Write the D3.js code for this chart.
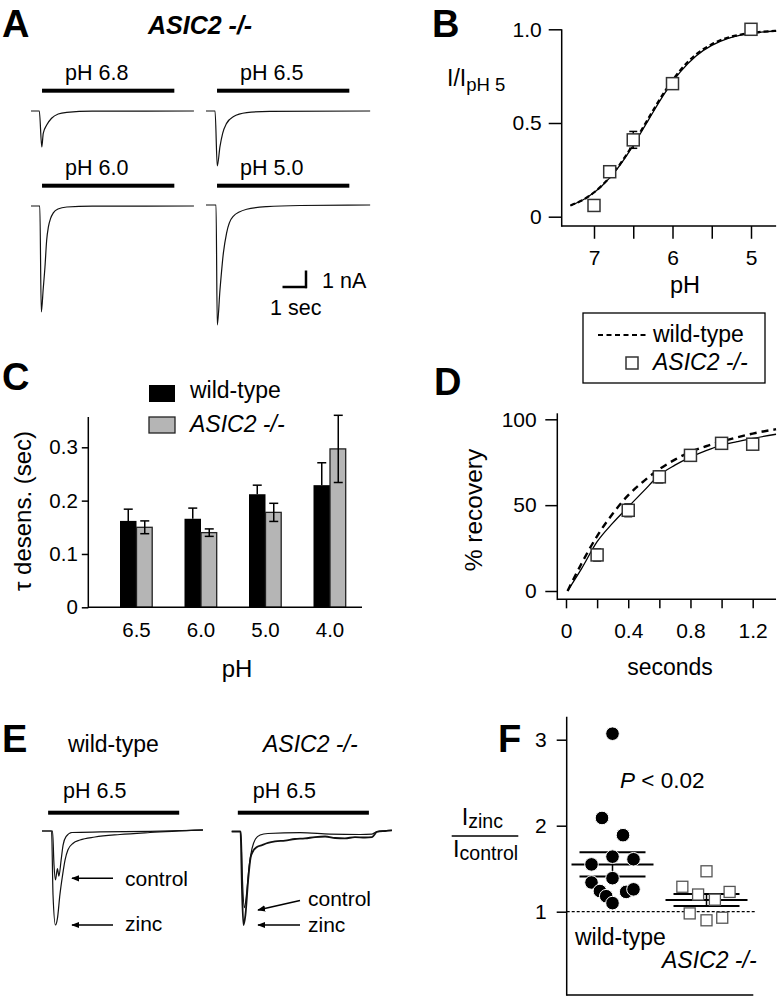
<!DOCTYPE html>
<html><head><meta charset="utf-8">
<script src="https://cdn.jsdelivr.net/npm/d3@7"></script>
<style>body{margin:0;background:#fff}svg{display:block}</style>
</head><body>
<svg id="c" width="783" height="1001"></svg>
<script>
// ---------------- DATA ----------------
// Panel A: ASIC2 -/- current traces (time s, current nA)
const aLabels = ["pH 6.8", "pH 6.5", "pH 6.0", "pH 5.0"];
const aPulse = [0.45, 5.85]; // acid application (s)
const aT68 = [0, 0.34, 0.44, 0.5, 0.64, 0.84, 1.11, 1.46, 2.5, 6.65];
const aI68 = [0, 0, -2.18, -1.35, -0.85, -0.44, -0.18, -0.08, -0.01, 0];
const aT65 = [0, 0.37, 0.46, 0.57, 0.68, 0.84, 1.11, 1.66, 2.6, 6.7];
const aI65 = [0, 0, -3.33, -2.16, -1.35, -0.75, -0.35, -0.1, -0.02, 0];
const aT60 = [0, 0.36, 0.42, 0.5, 0.57, 0.64, 0.71, 0.8, 0.91, 1.1, 1.46, 2.5, 6.65];
const aI60 = [0, 0, -6.42, -5.0, -3.7, -2.06, -1.27, -0.75, -0.42, -0.18, -0.06, -0.01, 0];
const aT50 = [0, 0.41, 0.46, 0.57, 0.71, 0.84, 1.1, 1.66, 2.48, 3.84, 6.7];
const aI50 = [0, 0, -7.27, -5.15, -2.9, -1.7, -0.7, -0.26, -0.1, -0.03, 0];

// Panel B: dose response
const bPH = [7.0, 6.8, 6.5, 6.0, 5.0];
const bKO = [0.06, 0.24, 0.41, 0.71, 1.0];
const bKOerr = [0, 0, 0.045, 0, 0];
const bXTicks = [7, 6.5, 6, 5.5, 5];
const bYTicks = [0, 0.5, 1.0];
const bYTickLabels = ["0", "0.5", "1.0"];
const bFitPH = [7.3, 7.1, 6.9, 6.7, 6.5, 6.3, 6.1, 5.9, 5.7, 5.5, 5.3, 5.1, 4.9, 4.68];
const bFitKO = [0.059, 0.10, 0.164, 0.258, 0.381, 0.521, 0.658, 0.773, 0.858, 0.914, 0.95, 0.971, 0.983, 0.991];
const bFitWT = [0.06, 0.10, 0.166, 0.262, 0.388, 0.53, 0.668, 0.782, 0.866, 0.92, 0.955, 0.974, 0.985, 0.992];

// Panel C: desensitization tau
const cPH = ["6.5", "6.0", "5.0", "4.0"];
const cWT = [0.162, 0.166, 0.212, 0.229];
const cWTerr = [0.022, 0.02, 0.017, 0.042];
const cKO = [0.15, 0.14, 0.178, 0.297];
const cKOerr = [0.012, 0.007, 0.017, 0.063];
const cYTicks = [0, 0.1, 0.2, 0.3];
const cYTickLabels = ["0", "0.1", "0.2", "0.3"];

// Panel D: recovery
const dT = [0.2, 0.4, 0.6, 0.8, 1.0, 1.2];
const dKO = [21, 47, 66.5, 79, 86, 85.5];
const dKOerr = [3.5, 3.7, 3.5, 3, 2, 1];
const dFitT = [0.01, 0.1, 0.2, 0.3, 0.4, 0.5, 0.6, 0.7, 0.8, 0.9, 1.0, 1.1, 1.2, 1.35];
const dFitKO = [0, 13, 28.7, 39.5, 49, 58.3, 67.5, 73.3, 78, 81.8, 85, 87, 88.9, 91.3];
const dFitWT = [0, 16, 32, 45, 55.8, 64, 71, 76.5, 81, 84.3, 87, 89.5, 91.7, 94.2];
const dXTicks = [0, 0.2, 0.4, 0.6, 0.8, 1.0, 1.2];
const dXTickLabels = ["0", "", "0.4", "", "0.8", "", "1.2"];
const dYTicks = [0, 50, 100];

// Panel E: zinc traces (time s, current normalized to zinc peak)
const eWTctrlT = [0, 0.43, 0.49, 0.55, 0.63, 0.69, 0.78, 0.86, 0.98, 1.22, 2.37, 4.41, 6.57];
const eWTctrlI = [0, 0, -0.36, -0.52, -0.40, -0.48, -0.31, -0.15, -0.06, -0.016, -0.01, -0.005, 0.01];
const eWTzincT = [0, 0.39, 0.45, 0.55, 0.63, 0.73, 0.84, 0.94, 1.06, 1.27, 1.55, 2.16, 3.18, 4.41, 6.57];
const eWTzincI = [0, 0, -0.68, -1.0, -0.93, -0.68, -0.47, -0.31, -0.20, -0.13, -0.096, -0.064, -0.037, -0.016, 0.011];
const eKOctrlT = [0, 0.38, 0.44, 0.52, 0.60, 0.71, 0.83, 0.97, 1.16, 1.48, 2.79, 4.01, 5.24, 5.73, 5.93, 6.54];
const eKOctrlI = [0, 0, -0.52, -0.81, -0.68, -0.37, -0.18, -0.08, -0.037, -0.021, -0.011, -0.027, -0.032, -0.027, 0, 0.011];
const eKOzincT = [0, 0.36, 0.42, 0.48, 0.56, 0.67, 0.77, 0.87, 1.03, 1.24, 1.48, 1.77, 2.18, 2.58, 2.99, 3.40, 3.81, 4.22, 4.62, 5.03, 5.44, 5.73, 5.93, 6.26, 6.54];
const eKOzincI = [0, 0, -0.62, -0.995, -0.89, -0.52, -0.28, -0.21, -0.165, -0.144, -0.122, -0.106, -0.096, -0.08, -0.074, -0.059, -0.053, -0.069, -0.074, -0.059, -0.064, -0.059, -0.005, 0.005, 0.011];

// Panel F: Izinc / Icontrol
const fGroups = ["wild-type", "ASIC2 -/-"];
const fWT = [3.07, 2.09, 1.89, 1.64, 1.61, 1.55, 1.39, 1.34, 1.24, 1.18, 1.23, 1.26, 1.10];
const fWTjitter = [0, -1, 1, 0, 2, -2, 0, -2, -1.2, -0.6, 1.3, 2, 0];
const fKO = [1.47, 1.29, 1.20, 1.14, 1.23, 0.98, 0.93, 0.90];
const fKOjitter = [0, -2.3, -0.8, 0.8, 2.2, -1.6, 1.5, 0];
const fMean = [1.55, 1.135];
const fSem = [0.14, 0.07];
const fYTicks = [1, 2, 3];
const fYTickLabels = ["1", "2", "3"];

// ---------------- DRAWING ----------------
const FONT = '"Liberation Sans", Arial, Helvetica, sans-serif';
const svg = d3.select("#c");
svg.append("rect").attr("width", 783).attr("height", 1001).attr("fill", "#fff");

function txt(g, x, y, s, o = {}) {
  const t = g.append("text").attr("x", x).attr("y", y).text(s)
    .attr("font-family", FONT).attr("font-size", o.size || 21).attr("fill", "#000")
    .attr("text-anchor", o.anchor || "start");
  if (o.bold) t.attr("font-weight", "bold");
  if (o.italic) t.attr("font-style", "italic");
  if (o.rotate) t.attr("transform", `rotate(${o.rotate},${x},${y})`);
  return t;
}
function ln(g, x1, y1, x2, y2, w = 1.5, col = "#000") {
  return g.append("line").attr("x1", x1).attr("y1", y1).attr("x2", x2).attr("y2", y2)
    .attr("stroke", col).attr("stroke-width", w);
}
function styleAxis(g, size = 21) {
  g.attr("font-size", size).attr("font-family", FONT);
  g.select(".domain").remove();
  g.selectAll(".tick line").attr("stroke", "#000").attr("stroke-width", 1.5);
  g.selectAll(".tick text").attr("fill", "#000");
}
function trace(g, ts, is, x0, y0, sx, sy, w = 1.2) {
  const gen = d3.line().x((d, i) => x0 + sx(ts[i])).y((d, i) => y0 + sy(is[i])).curve(d3.curveMonotoneX);
  g.append("path").attr("d", gen(ts)).attr("fill", "none").attr("stroke", "#111").attr("stroke-width", w);
}
const LAB = 23; // size of group labels

// Panel letters
[["A", 2, 37], ["B", 432, 37], ["C", 2, 390], ["D", 434, 395], ["E", 2, 752], ["F", 498, 752]]
  .forEach(([l, x, y]) => txt(svg, x, y, l, { size: 38, bold: true }));

// ---- Panel A ----
const gA = svg.append("g");
txt(gA, 148, 34, "ASIC2 -/-", { size: 25, bold: true, italic: true });
const ax = d3.scaleLinear().domain([0, 1]).range([0, 24.5]);
const ay = d3.scaleLinear().domain([0, -1]).range([0, 16.5]);
const aTraces = [[aT68, aI68], [aT65, aI65], [aT60, aI60], [aT50, aI50]];
const aOrigins = [[31, 111], [206, 111], [31, 206], [206, 205]];
aTraces.forEach(([t, i], k) => {
  const [x0, y0] = aOrigins[k];
  trace(gA, t, i, x0, y0, ax, ay);
  const rowBase = k < 2 ? 111 : 206;
  gA.append("rect").attr("x", x0 + ax(aPulse[0])).attr("y", rowBase - 22.3)
    .attr("width", ax(aPulse[1]) - ax(aPulse[0])).attr("height", 4).attr("fill", "#000");
  txt(gA, x0 + 34, rowBase - 31.5, aLabels[k], { size: 21.5 });
});
// scale bar: 1 s, 1 nA
ln(gA, 307 - ax(1), 287, 307, 287, 2.5);
ln(gA, 306, 287 + 1.2, 306, 287 - ay(-1), 2.5);
txt(gA, 322, 288, "1 nA", { size: 21.5 });
txt(gA, 270, 315, "1 sec", { size: 21.5 });

// ---- Panel B ----
const gB = svg.append("g");
const bx = d3.scaleLinear().domain([7, 5]).range([594, 751]);
const by = d3.scaleLinear().domain([0, 1]).range([216.7, 29.3]);
const bAxisY = by(-0.05);
const gBy = gB.append("g").attr("transform", "translate(561.7,0)")
  .call(d3.axisLeft(by).tickValues(bYTicks).tickFormat((d, i) => bYTickLabels[i]).tickSize(13).tickPadding(7));
styleAxis(gBy);
const gBx = gB.append("g").attr("transform", `translate(0,${bAxisY})`)
  .call(d3.axisBottom(bx).tickValues(bXTicks).tickFormat(d => Number.isInteger(d) ? d : "").tickSize(12.7).tickPadding(11.4));
styleAxis(gBx);
ln(gB, 561.7, by(1), 561.7, bAxisY + 0.75);
ln(gB, 561.7, bAxisY, bx(4.68), bAxisY);
txt(gB, 685, 293, "pH", { anchor: "middle", size: 23.5 });
const bLab = txt(gB, 447, 86, "I/I", { size: 23 });
bLab.append("tspan").attr("font-size", 18.5).attr("dy", 5).text("pH 5");
const bLine = arr => d3.line().x((d, i) => bx(bFitPH[i])).y((d, i) => by(arr[i])).curve(d3.curveMonotoneX)(arr);
gB.append("path").attr("d", bLine(bFitWT)).attr("fill", "none").attr("stroke", "#000").attr("stroke-width", 2.2).attr("stroke-dasharray", "5,3");
gB.append("path").attr("d", bLine(bFitKO)).attr("fill", "none").attr("stroke", "#000").attr("stroke-width", 1.3);
bPH.forEach((p, i) => {
  const cx = bx(p), cy = by(bKO[i]);
  if (bKOerr[i] > 0) {
    ln(gB, cx, by(bKO[i] + bKOerr[i]), cx, by(bKO[i] - bKOerr[i]), 1.5);
    ln(gB, cx - 4, by(bKO[i] + bKOerr[i]), cx + 4, by(bKO[i] + bKOerr[i]), 1.5);
    ln(gB, cx - 4, by(bKO[i] - bKOerr[i]), cx + 4, by(bKO[i] - bKOerr[i]), 1.5);
  }
  gB.append("rect").attr("x", cx - 6).attr("y", cy - 6).attr("width", 12).attr("height", 12)
    .attr("fill", "#fff").attr("stroke", "#333").attr("stroke-width", 1.5);
});
// legend
gB.append("rect").attr("x", 583).attr("y", 313).attr("width", 182).attr("height", 70)
  .attr("fill", "#fff").attr("stroke", "#000").attr("stroke-width", 1.3);
ln(gB, 598, 335, 647, 335, 1.8).attr("stroke-dasharray", "5,3.5");
txt(gB, 653, 342, "wild-type", { size: LAB });
gB.append("rect").attr("x", 626).attr("y", 357).attr("width", 12).attr("height", 12)
  .attr("fill", "#fff").attr("stroke", "#333").attr("stroke-width", 1.5);
txt(gB, 653, 370, "ASIC2 -/-", { italic: true, size: LAB });

// ---- Panel C ----
const gC = svg.append("g");
const cy = d3.scaleLinear().domain([0, 0.3]).range([607.3, 447.3]);
const cx = d3.scaleBand().domain(cPH).range([104.25, 362.25]);
const cSub = d3.scaleBand().domain(["wt", "ko"]).range([cx.bandwidth() / 2 - 16.5, cx.bandwidth() / 2 + 16.5]);
const gCy = gC.append("g").attr("transform", "translate(88.3,0)")
  .call(d3.axisLeft(cy).tickValues(cYTicks).tickFormat((d, i) => cYTickLabels[i]).tickSize(6.5).tickPadding(4));
styleAxis(gCy, 20.5);
const gCx = gC.append("g").attr("transform", `translate(0,${cy(0)})`)
  .call(d3.axisBottom(cx).tickSize(0).tickPadding(14.8));
styleAxis(gCx, 20.5);
cPH.forEach((p, i) => {
  const xb = cx(p) + cSub("wt"), xg = cx(p) + cSub("ko"), w = cSub.bandwidth();
  gC.append("rect").attr("x", xb).attr("y", cy(cWT[i])).attr("width", w).attr("height", cy(0) - cy(cWT[i])).attr("fill", "#000");
  const mb = xb + w / 2;
  ln(gC, mb, cy(cWT[i]), mb, cy(cWT[i] + cWTerr[i]), 1.5);
  ln(gC, mb - 4.5, cy(cWT[i] + cWTerr[i]), mb + 4.5, cy(cWT[i] + cWTerr[i]), 1.5);
  gC.append("rect").attr("x", xg).attr("y", cy(cKO[i])).attr("width", w - 0.8).attr("height", cy(0) - cy(cKO[i]))
    .attr("fill", "#b5b5b5").attr("stroke", "#222").attr("stroke-width", 1.3);
  const mg = xg + w / 2;
  ln(gC, mg, cy(cKO[i] + cKOerr[i]), mg, cy(cKO[i] - cKOerr[i]), 1.5);
  ln(gC, mg - 4.5, cy(cKO[i] + cKOerr[i]), mg + 4.5, cy(cKO[i] + cKOerr[i]), 1.5);
  ln(gC, mg - 4.5, cy(cKO[i] - cKOerr[i]), mg + 4.5, cy(cKO[i] - cKOerr[i]), 1.5);
});
ln(gC, 88.3, 417, 88.3, cy(0) + 0.75);
ln(gC, 88.3, cy(0), 362, cy(0));
txt(gC, 237, 677, "pH", { anchor: "middle", size: 24 });
txt(gC, 31, 511, "τ desens. (sec)", { anchor: "middle", rotate: -90, size: 24 });
gC.append("rect").attr("x", 149).attr("y", 385).attr("width", 26).attr("height", 17).attr("fill", "#000");
txt(gC, 190, 398, "wild-type", { size: LAB });
gC.append("rect").attr("x", 149).attr("y", 417).attr("width", 26).attr("height", 16)
  .attr("fill", "#b5b5b5").attr("stroke", "#222").attr("stroke-width", 1.3);
txt(gC, 190, 432, "ASIC2 -/-", { italic: true, size: LAB });

// ---- Panel D ----
const gD = svg.append("g");
const dx = d3.scaleLinear().domain([0, 1.2]).range([566, 752.7]);
const dy = d3.scaleLinear().domain([0, 100]).range([591, 419.3]);
const dAxisY = dy(-4.85);
const gDy = gD.append("g").attr("transform", "translate(557.3,0)")
  .call(d3.axisLeft(dy).tickValues(dYTicks).tickSize(12).tickPadding(8.6));
styleAxis(gDy);
const gDx = gD.append("g").attr("transform", `translate(0,${dAxisY})`)
  .call(d3.axisBottom(dx).tickValues(dXTicks).tickFormat((d, i) => dXTickLabels[i]).tickSize(9).tickPadding(15.1));
styleAxis(gDx);
ln(gD, 557.3, dy(103.5), 557.3, dAxisY + 0.75);
ln(gD, 557.3, dAxisY, dx(1.35), dAxisY);
txt(gD, 670, 675, "seconds", { anchor: "middle", size: 23 });
txt(gD, 482, 510, "% recovery", { anchor: "middle", rotate: -90, size: 24.5 });
const dLine = arr => d3.line().x((d, i) => dx(dFitT[i])).y((d, i) => dy(arr[i])).curve(d3.curveMonotoneX)(arr);
gD.append("path").attr("d", dLine(dFitWT)).attr("fill", "none").attr("stroke", "#000").attr("stroke-width", 2.4).attr("stroke-dasharray", "7,5");
gD.append("path").attr("d", dLine(dFitKO)).attr("fill", "none").attr("stroke", "#000").attr("stroke-width", 1.3);
dT.forEach((t, i) => {
  const x = dx(t), y = dy(dKO[i]), e = dKOerr[i];
  ln(gD, x, dy(dKO[i] + e), x, dy(dKO[i] - e), 1.5);
  ln(gD, x - 4, dy(dKO[i] + e), x + 4, dy(dKO[i] + e), 1.5);
  ln(gD, x - 4, dy(dKO[i] - e), x + 4, dy(dKO[i] - e), 1.5);
  gD.append("rect").attr("x", x - 6).attr("y", y - 6).attr("width", 12).attr("height", 12)
    .attr("fill", "#fff").attr("stroke", "#333").attr("stroke-width", 1.5);
});

// ---- Panel E ----
const gE = svg.append("g");
const ex = d3.scaleLinear().domain([0, 1]).range([0, 24.5]);
const ey = d3.scaleLinear().domain([0, -1]).range([0, 94]);
txt(gE, 68, 752, "wild-type", { size: LAB });
txt(gE, 263, 752, "ASIC2 -/-", { italic: true, size: LAB });
[[42, 831], [231.7, 831.5]].forEach(([x0], k) => {
  gE.append("rect").attr("x", x0 + ex(0.25)).attr("y", 810.7).attr("width", ex(5.6) - ex(0.25)).attr("height", 4).attr("fill", "#000");
  txt(gE, x0 + 21, 798, "pH 6.5", { size: 21.5 });
});
trace(gE, eWTctrlT, eWTctrlI, 42, 831, ex, ey);
trace(gE, eWTzincT, eWTzincI, 42, 831, ex, ey);
trace(gE, eKOctrlT, eKOctrlI, 231.7, 831.5, ex, ey, 1.2);
trace(gE, eKOzincT, eKOzincI, 231.7, 831.5, ex, ey, 1.8);
svg.append("defs").append("marker").attr("id", "ah").attr("viewBox", "0 0 10 10").attr("refX", 9).attr("refY", 5)
  .attr("markerWidth", 8).attr("markerHeight", 8).attr("orient", "auto").attr("markerUnits", "userSpaceOnUse")
  .append("path").attr("d", "M10,5 L0,1 L0,9 Z").attr("fill", "#000");
function arrow(x1, y1, x2, y2) { ln(gE, x1, y1, x2, y2, 1.5).attr("marker-end", "url(#ah)"); }
arrow(113, 878.3, 72, 878.3);
arrow(113, 925, 72, 925);
txt(gE, 125, 886, "control", { size: 21 });
txt(gE, 125, 931, "zinc", { size: 21 });
arrow(300, 900.5, 258, 910);
arrow(300, 925, 258, 925);
txt(gE, 308, 906, "control", { size: 21 });
txt(gE, 308, 932, "zinc", { size: 21 });

// ---- Panel F ----
const gF = svg.append("g");
const fy = d3.scaleLinear().domain([1, 3]).range([911.7, 739.7]);
const fx = d3.scalePoint().domain(fGroups).range([612.5, 706.5]);
const fj = d3.scaleLinear().domain([0, 1]).range([0, 10.5]);
const gFy = gF.append("g").attr("transform", "translate(566.7,0)")
  .call(d3.axisLeft(fy).tickValues(fYTicks).tickFormat((d, i) => fYTickLabels[i]).tickSize(10).tickPadding(10));
styleAxis(gFy);
ln(gF, 566.7, 716.7, 566.7, 995.7);
ln(gF, 566.7, 995, 753.3, 995);
ln(gF, 566.7, fy(1), 755, fy(1), 1.2).attr("stroke-dasharray", "3,2");
fGroups.forEach((g, i) => {
  const c = fx(g);
  ln(gF, c - 41, fy(fMean[i]), c + 41, fy(fMean[i]), 2);
  ln(gF, c - 33, fy(fMean[i] + fSem[i]), c + 33, fy(fMean[i] + fSem[i]), 2);
  ln(gF, c - 33, fy(fMean[i] - fSem[i]), c + 33, fy(fMean[i] - fSem[i]), 2);
  ln(gF, c, fy(fMean[i] + fSem[i]), c, fy(fMean[i] - fSem[i]), 1.5);
});
fWT.forEach((v, i) => {
  gF.append("circle").attr("cx", fx("wild-type") + fj(fWTjitter[i])).attr("cy", fy(v)).attr("r", 6.8)
    .attr("fill", "#000").attr("stroke", "#fff").attr("stroke-width", 1);
});
fKO.forEach((v, i) => {
  gF.append("rect").attr("x", fx("ASIC2 -/-") + fj(fKOjitter[i]) - 5.5).attr("y", fy(v) - 5.5)
    .attr("width", 11).attr("height", 11).attr("fill", "#fff").attr("stroke", "#555").attr("stroke-width", 1.3);
});
const pT = txt(gF, 620, 788, "", { size: 22.5 });
pT.append("tspan").attr("font-style", "italic").text("P");
pT.append("tspan").text(" < 0.02");
txt(gF, 575, 945, "wild-type", { size: LAB });
txt(gF, 662, 968, "ASIC2 -/-", { italic: true, size: LAB });
const z = txt(gF, 461.7, 825, "I", { size: 23.5 });
z.append("tspan").attr("font-size", 19.5).attr("dy", 3).text("zinc");
ln(gF, 451.7, 836, 518.3, 836, 1.5);
const ct = txt(gF, 453, 857, "I", { size: 23.5 });
ct.append("tspan").attr("font-size", 19.5).attr("dy", 3).text("control");
</script>
</body></html>
